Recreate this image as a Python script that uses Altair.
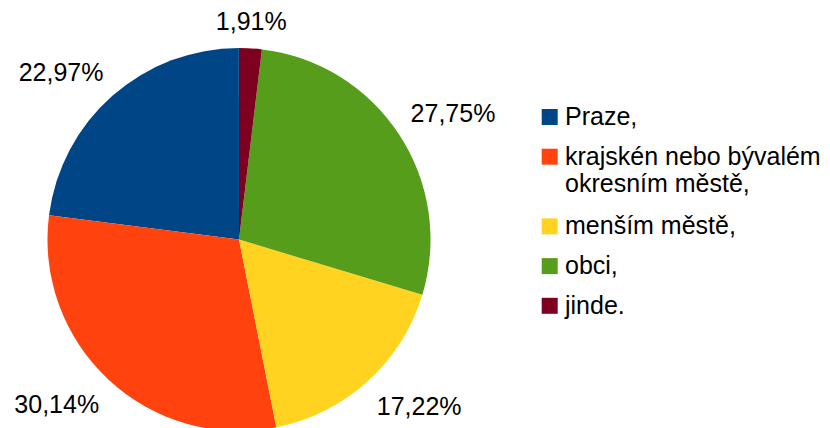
import altair as alt
import pandas as pd

categories = ["Praze,", "krajskén nebo bývalém\nokresním městě,", "menším městě,", "obci,", "jinde."]
values = [22.97, 30.14, 17.22, 27.75, 1.91]
colors = ["#004586", "#ff420e", "#ffd320", "#579d1c", "#7e0021"]

df = pd.DataFrame({"cat": categories, "val": values, "idx": list(range(len(categories)))})

FONT = "Liberation Sans"
CX, CY, R = 231, 231.5, 191.5
LR = 205

theta_scale = alt.Scale(domain=[0, 100], range=[0, 6.283185307179586])
color_scale = alt.Scale(domain=categories, range=colors)

base = (
    alt.Chart(df)
    .transform_window(cum="sum(val)", sort=[alt.SortField("idx", order="descending")])
    .transform_calculate(
        start="datum.cum - datum.val",
        mid="datum.cum - datum.val / 2",
        lab="replace(format(datum.val, '.2f'), '.', ',') + '%'",
    )
)

arcs = base.mark_arc(radius=R).encode(
    theta=alt.Theta("start:Q", stack=None, scale=theta_scale),
    theta2="cum:Q",
    color=alt.Color("cat:N", scale=color_scale, legend=None),
    x=alt.value(CX),
    y=alt.value(CY),
)


def label_layer(cond, align, baseline, dy=0):
    return (
        base.transform_filter(cond)
        .mark_text(radius=LR, align=align, baseline=baseline, dy=dy, fontSize=25, font=FONT, color="#000000")
        .encode(
            theta=alt.Theta("mid:Q", stack=None, scale=theta_scale),
            text="lab:N",
            x=alt.value(CX),
            y=alt.value(CY),
        )
    )


labels = [
    label_layer("datum.mid < 5 || datum.mid > 95", "center", "bottom"),
    label_layer("datum.mid >= 5 && datum.mid < 25", "left", "bottom"),
    label_layer("datum.mid >= 25 && datum.mid < 50", "left", "top", 4),
    label_layer("datum.mid >= 50 && datum.mid < 75", "right", "top", 4),
    label_layer("datum.mid >= 75 && datum.mid <= 95", "right", "bottom"),
]

leg = (
    alt.Chart(df)
    .transform_calculate(lines="length(split(datum.cat, '\\n'))")
    .transform_window(cl="sum(lines)", sort=[alt.SortField("idx")])
    .transform_calculate(pos="109 + 39.7 * datum.idx + 30 * (datum.cl - datum.lines - datum.idx)")
)

leg_sq = leg.mark_square(size=256, opacity=1).encode(
    x=alt.value(541.7),
    y=alt.Y("pos:Q", scale=None),
    color=alt.Color("cat:N", scale=color_scale, legend=None),
)
leg_tx = leg.mark_text(align="left", baseline="middle", fontSize=25, font=FONT, color="#000000", lineBreak="\n", lineHeight=27).encode(
    x=alt.value(557),
    y=alt.Y("pos:Q", scale=None),
    text="cat:N",
)

chart = (
    alt.layer(arcs, *labels, leg_sq, leg_tx)
    .properties(width=814, height=420, padding=0, autosize=alt.AutoSizeParams(type="none"))
    .configure_view(strokeWidth=0, stroke="transparent", fill="white")
)

chart.save("out.html", embed_options={"renderer": "svg", "actions": False})
